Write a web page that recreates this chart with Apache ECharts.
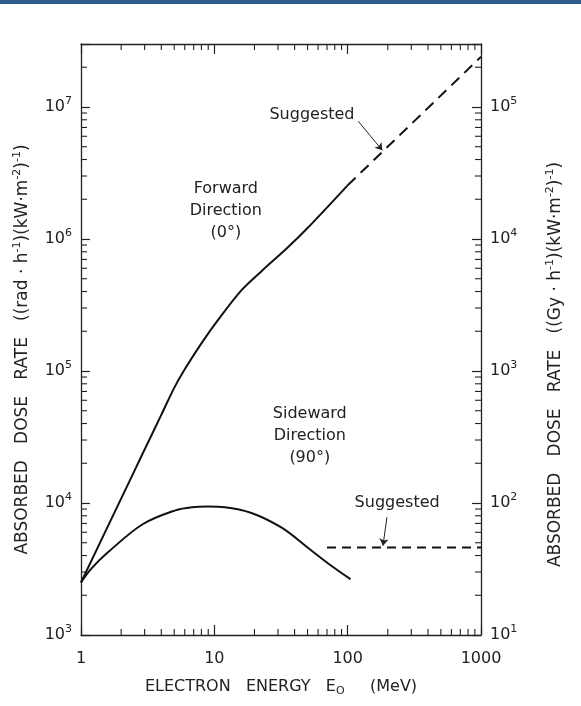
<!DOCTYPE html>
<html>
<head>
<meta charset="utf-8">
<title>Absorbed dose rate vs electron energy</title>
<script src="https://cdn.jsdelivr.net/npm/echarts@6/dist/echarts.min.js"></script>
<style>
  html, body { margin: 0; padding: 0; background: #fff; }
  #chart { width: 581px; height: 706px; }
</style>
</head>
<body>
<div id="chart"></div>
<script>
// forward direction (0 deg), solid curve
var forwardEnergy = [1, 2, 3, 4, 5, 6, 8, 10.7, 16, 23, 35, 50, 100];
var forwardDose = [2500, 10800, 25400, 46500, 74500, 103000, 162000, 245000, 410000, 580000, 850000, 1210000, 2550000];
// forward, suggested (dashed)
var forwardSugEnergy = [100, 1000];
var forwardSugDose = [2550000, 24000000];

// sideward direction (90 deg), solid curve
var sideEnergy = [1, 1.2, 1.6, 2.9, 5.1, 6.8, 9, 12, 19, 32, 50, 71, 105];
var sideDose = [2500, 3200, 4250, 6900, 8800, 9300, 9400, 9300, 8400, 6500, 4600, 3500, 2650];
// sideward, suggested (dashed)
var sideSugEnergy = [70, 1000];
var sideSugDose = [4600, 4600];

// text annotations (placed in data coordinates)
var noteEnergy = [12.2, 52, 54, 235];
var noteDose = [1630000, 32500, 8700000, 10000];
var noteText = ['Forward\nDirection\n(0°)', 'Sideward\nDirection\n(90°)', 'Suggested', 'Suggested'];

// leader arrows from the "Suggested" notes: [from, to]
var upperArrow = [[120, 7800000], [182, 4700000]];
var lowerArrow = [[197, 7800], [184, 4750]];

// axis ranges
var xMin = 1, xMax = 1000;
var yMin = 1000, yMax = 30000000;      // rad/h per kW/m2
var y2Min = 10, y2Max = 300000;        // Gy/h per kW/m2

// minor tick values (log paper)
var xMinorTicks = [2, 3, 4, 5, 6, 7, 8, 9, 20, 30, 40, 50, 60, 70, 80, 90, 200, 300, 400, 500, 600, 700, 800, 900];
var yMinorTicks = [2000, 3000, 4000, 5000, 6000, 7000, 8000, 9000,
  20000, 30000, 40000, 50000, 60000, 70000, 80000, 90000,
  200000, 300000, 400000, 500000, 600000, 700000, 800000, 900000,
  2000000, 3000000, 4000000, 5000000, 6000000, 7000000, 8000000, 9000000,
  20000000];

var ink = '#222';
var font = 'DejaVu Sans';

function zip(a, b) {
  return a.map(function (v, i) { return [v, b[i]]; });
}

function powLabel(v) {
  var l = Math.log10(v);
  var e = Math.round(l);
  if (Math.abs(l - e) > 1e-6) return '';
  return '{n|10}{e|' + e + '}';
}

var powRich = {
  n: { fontSize: 16, lineHeight: 22, color: ink, fontFamily: font },
  e: { fontSize: 11, lineHeight: 10, verticalAlign: 'top', color: ink, fontFamily: font }
};

var supRich = { s: { fontSize: 11, lineHeight: 10, verticalAlign: 'top', color: ink, fontFamily: font } };

// minor tick marks: [x, y, side]  side 0 left, 1 right, 2 bottom, 3 top
var minorData = [];
yMinorTicks.forEach(function (v) { minorData.push([xMin, v, 0]); minorData.push([xMax, v, 1]); });
xMinorTicks.forEach(function (v) { minorData.push([v, yMin, 2]); minorData.push([v, yMax, 3]); });

var mychart = echarts.init(document.getElementById('chart'));

var option = {
  backgroundColor: '#fff',
  animation: false,
  graphic: [{
    type: 'rect',
    shape: { x: 0, y: 0, width: 581, height: 4 },
    style: { fill: '#2e5c8c' }
  }],
  grid: { left: 81, right: 100, top: 44, bottom: 71, containLabel: false, outerBoundsMode: 'none' },
  xAxis: [{
    type: 'log',
    min: xMin,
    max: xMax,
    splitNumber: 3,
    position: 'bottom',
    name: 'ELECTRON   ENERGY   E{sub|O}     (MeV)',
    nameLocation: 'middle',
    nameGap: 42,
    nameTextStyle: {
      fontSize: 16, lineHeight: 20, color: ink, fontFamily: font,
      rich: { sub: { fontSize: 11, lineHeight: 10, verticalAlign: 'bottom', color: ink, fontFamily: font } }
    },
    axisLine: { show: true, lineStyle: { color: ink, width: 1.3 } },
    axisTick: { show: true, inside: true, length: 10, lineStyle: { color: ink, width: 1.2 } },
    axisLabel: {
      margin: 16, fontSize: 16, color: ink, fontFamily: font,
      formatter: function (v) { return String(Math.round(v)); }
    },
    splitLine: { show: false }
  }, {
    type: 'log',
    min: xMin,
    max: xMax,
    splitNumber: 3,
    position: 'top',
    axisLine: { show: true, lineStyle: { color: ink, width: 1.3 } },
    axisTick: { show: true, inside: true, length: 10, lineStyle: { color: ink, width: 1.2 } },
    axisLabel: { show: false },
    splitLine: { show: false }
  }],
  yAxis: [{
    type: 'log',
    min: yMin,
    max: yMax,
    splitNumber: 4,
    position: 'left',
    name: 'ABSORBED   DOSE   RATE   ((rad · h{s|-1})(kW·m{s|-2}){s|-1})',
    nameLocation: 'middle',
    nameRotate: 90,
    nameGap: 47,
    nameTextStyle: {
      fontSize: 17, lineHeight: 22, color: ink, fontFamily: font,
      padding: [0, 20, 0, 0],
      rich: supRich
    },
    axisLine: { show: true, lineStyle: { color: ink, width: 1.3 } },
    axisTick: { show: true, inside: true, length: 9, lineStyle: { color: ink, width: 1.2 } },
    axisLabel: { margin: 9, formatter: powLabel, rich: powRich },
    splitLine: { show: false }
  }, {
    type: 'log',
    min: y2Min,
    max: y2Max,
    splitNumber: 4,
    position: 'right',
    name: 'ABSORBED   DOSE   RATE   ((Gy · h{s|-1})(kW·m{s|-2}){s|-1})',
    nameLocation: 'middle',
    nameRotate: 90,
    nameGap: 64,
    nameTextStyle: {
      fontSize: 17, lineHeight: 22, color: ink, fontFamily: font,
      padding: [0, 50, 0, 0],
      rich: supRich
    },
    axisLine: { show: true, lineStyle: { color: ink, width: 1.3 } },
    axisTick: { show: true, inside: true, length: 9, lineStyle: { color: ink, width: 1.2 } },
    axisLabel: { margin: 9, formatter: powLabel, rich: powRich },
    splitLine: { show: false }
  }],
  series: [{
    name: 'Forward',
    type: 'line',
    data: zip(forwardEnergy, forwardDose),
    smooth: 0.3,
    symbol: 'none',
    lineStyle: { color: '#111', width: 2 },
    silent: true
  }, {
    name: 'Forward suggested',
    type: 'line',
    data: zip(forwardSugEnergy, forwardSugDose),
    symbol: 'none',
    lineStyle: { color: '#111', width: 2, type: [11, 7] },
    silent: true,
    markLine: {
      silent: true,
      symbol: ['none', 'arrow'],
      symbolSize: 7,
      label: { show: false },
      lineStyle: { color: ink, width: 1, type: 'solid' },
      data: [[{ coord: upperArrow[0] }, { coord: upperArrow[1] }]]
    }
  }, {
    name: 'Sideward',
    type: 'line',
    data: zip(sideEnergy, sideDose),
    smooth: 0.35,
    symbol: 'none',
    lineStyle: { color: '#111', width: 2 },
    silent: true
  }, {
    name: 'Sideward suggested',
    type: 'line',
    data: zip(sideSugEnergy, sideSugDose),
    symbol: 'none',
    lineStyle: { color: '#111', width: 2, type: [9, 6] },
    silent: true,
    markLine: {
      silent: true,
      symbol: ['none', 'arrow'],
      symbolSize: 7,
      label: { show: false },
      lineStyle: { color: ink, width: 1, type: 'solid' },
      data: [[{ coord: lowerArrow[0] }, { coord: lowerArrow[1] }]]
    }
  }, {
    name: 'Notes',
    type: 'scatter',
    data: noteEnergy.map(function (e, i) { return [e, noteDose[i], noteText[i]]; }),
    symbolSize: 0,
    silent: true,
    itemStyle: { opacity: 1 },
    label: {
      show: true,
      position: 'inside',
      formatter: function (p) { return p.data[2]; },
      fontSize: 16,
      lineHeight: 22,
      color: ink,
      opacity: 1,
      fontFamily: font
    }
  }, {
    name: 'Minor ticks',
    type: 'custom',
    data: minorData,
    silent: true,
    renderItem: function (params, api) {
      var p = api.coord([api.value(0), api.value(1)]);
      var side = api.value(2);
      var len = 6;
      var q = [p[0], p[1]];
      if (side === 0) q[0] += len;
      else if (side === 1) q[0] -= len;
      else if (side === 2) q[1] -= len;
      else q[1] += len;
      return {
        type: 'line',
        shape: { x1: p[0], y1: p[1], x2: q[0], y2: q[1] },
        style: { stroke: ink, lineWidth: 1.1 }
      };
    }
  }]
};

mychart.setOption(option);
</script>
</body>
</html>
